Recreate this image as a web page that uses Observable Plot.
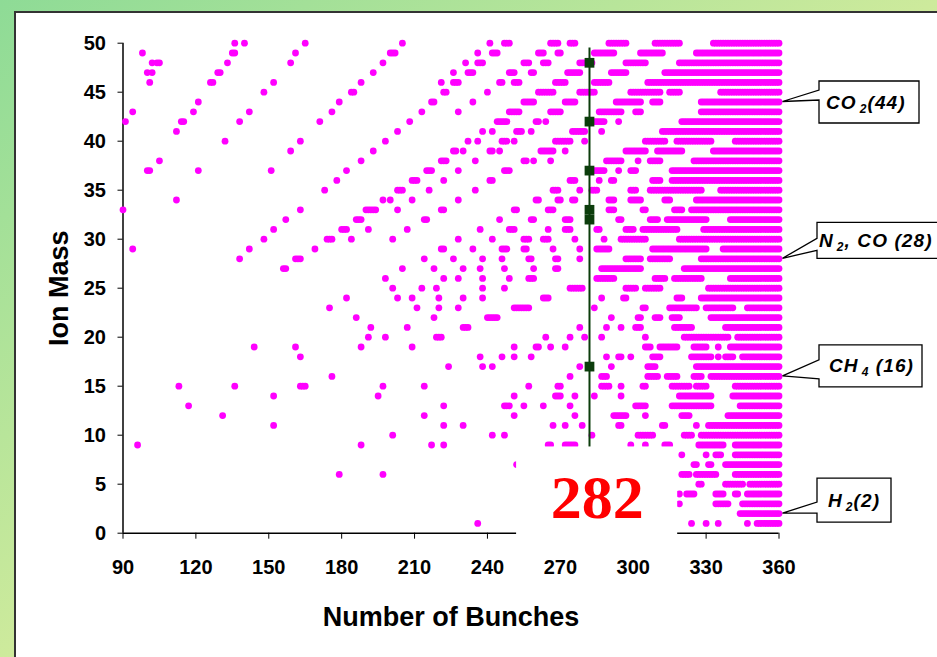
<!DOCTYPE html>
<html><head><meta charset="utf-8">
<script src="https://cdn.jsdelivr.net/npm/d3@7"></script>
<script src="https://cdn.jsdelivr.net/npm/@observablehq/plot@0.6"></script>
<style>
html,body{margin:0;padding:0;width:937px;height:657px;overflow:hidden;}
body{position:relative;background:linear-gradient(to bottom right,#8edb96 0%,#cdea9c 50%,#f2f6aa 100%);font-family:"Liberation Sans",Arial,sans-serif;}
#panel{position:absolute;left:14px;top:11px;right:-10px;bottom:-10px;background:#fff;border-left:2px solid #333;border-top:2px solid #333;}
#chart{position:absolute;left:0;top:0;}
</style></head><body><div id="panel"></div><div id="chart"></div>
<script>
// ---- data ----
const xTicks = [90,120,150,180,210,240,270,300,330,360];
const yTicks = [0,5,10,15,20,25,30,35,40,45,50];
const massLevels = [50,49,48,47,46,45,44,43,42,41,40,39,38,37,36,35,34,33,32,31,30,29,28,27,26,25,24,23,22,21,20,19,18,17,16,15,14,13,12,11,10,9,8,7,6,5,4,3,2,1];
// bunch numbers where an ion of that mass is trapped ("a-b" = every bunch number from a to b)
const bunchRuns = [
 "136 140 165 205 241 247-249 266-269 274-276 290-297 309-319 333-360",
 "98 135-136 161 200-202 236 242-244 261-263 269-270 284-292 303-312 326-360",
 "102 104-105 133 159 197 231 236-238 255-257 263-265 278-283 297-305 319-360",
 "100 102 129-130 193 226 232-234 249-251 258-259 273-278 291-297 313-360",
 "101 126-127 152 188 221 226-228 245-246 251-253 268-272 284-290 306-360",
 "148 184-185 222-223 240 261-267 278-284 299-311 315-319 336-360",
 "121 179 217-218 234 255-259 272-276 293-303 308-311 328-360",
 "94 119 142 176 213 228 249-253 266-270 286-295 301-303 328-360",
 "91 114-115 138 171 208 244-248 260-261 264 282-288 294 320-360",
 "112 203 238 242 252-254 258 275-280 287 312-360",
 "132 163 198 232 236 246-248 251 268-274 280 305-313 318-332 342-360",
 "159 193 226-227 230 241-242 245 262-267 272 297-305 310-320 333-360",
 "105 188 221-223 235 255-256 259 266 289-295 302 307-311 325-360",
 "100-101 121 151 182 215-217 228 247-249 282-288 294 299-301 316-360",
 "178 209-211 222 241-242 274-276 286 291-292 308-311 316-360",
 "173 203-205 216 235 267-269 278 283-285 299-301 307-328 336-360",
 "112 197 200 209 228 260-261 269-270 275-276 290-292 299-303 313-315 326-360",
 "90 163 190-194 203 221-222 251-252 265-267 282 290-292 304-305 317-320 324-360",
 "157 186-188 214-215 245 258-259 272-274 282 294-295 307-310 314-330 340-360",
 "152 180-182 191 207 237 249-251 265 272-274 285-286 297-300 304-318 329-360",
 "148 174-176 184 201 228 242 255-257 263-265 276 288 295-305 319-360",
 "94 142 169 221-222 234 246-248 255-256 267 278 285-290 308-330 337-360",
 "138 161-163 214 226 238 246 257-258 268-269 278 297-303 307-315 328-360",
 "156-157 205 218 230 237 247 259 268-269 287-303 321-360",
 "198 222 228 238 249 257-259 285-292 309-313 317-328 340-360",
 "201 213 219 238 247 274-279 297-301 305-311 331-360",
 "182 203 209 220 230 238 263-265 287 296-297 318-320 328-360",
 "175 211 220 228 251-257 284 304-305 315-326 330-341 347-360",
 "186 218 240-244 291 302-303 309-311 316-319 332-360",
 "192 207 230-232 278 289 295 301-303 317-324 338-360",
 "191 198 219-221 264 274 280 287 305 321-339 343-360",
 "144 161 188 209 251 260-261 266 272 305-307 311-318 325-330 335 340-360",
 "163 237 246 251 258 289 294-295 299 308-311 324-332 335 338-341 345-360",
 "224 238 242 278 282 291 306-309 326-360",
 "176 274 287-289 306-310 314-318 325-328 332-360",
 "113 136 163-165 197 214 257 269-270 287-290 295 304-305 316-323 326-330 342-360",
 "152 195 251 268-270 276 284 295 319-332 341-360",
 "117 222 247-249 255 263 274 301-305 316-332 344-360",
 "131 214 251 276 292-297 305 320-323 339-360",
 "152 222 230 267 272 279 294-295 312-313 326 331-360",
 "201 242 247 283 302-308 321-324 328-360",
 "96 188 217 222 265-266 272-276 299 305 313-315 327-337 342-360",
 "320 330 334-336 342-360",
 "252 325-326 331-332 338-360",
 "179 197 320-323 326-334 342-360",
 "327-328 338-345 348-360",
 "319 322-325 334-337 342-343 347-360",
 "319 334-339 345-360",
 "344-360",
 "236 324 330 335 347 351-360"
];
const highlightBunch = 282;
const highlightMasses = [48,42,37,33,32,17];
const calloutMasses = [44,28,16,2];
const calloutTexts = [["CO","2","(44)"],["N","2",", CO (28)"],["CH","4"," (16)"],["H","2","(2)"]];

// ---- build table ----
const expand = s => s.split(" ").flatMap(t => { const [a,b] = t.split("-").map(Number); return d3.range(a, (b ?? a) + 1); });
const dots = massLevels.flatMap((m,i) => expand(bunchRuns[i]).map(n => ({bunches:n, mass:m})));

const green = "#0c3d0c";
const font = "Liberation Sans, Arial, sans-serif";
const plot = Plot.plot({
  width: 937, height: 657,
  marginLeft: 122.5, marginRight: 158.5, marginTop: 42.7, marginBottom: 124.3,
  x: {domain:[90,360]},
  y: {domain:[0,50]},
  style: {background:"transparent", fontFamily:font, overflow:"visible", color:"#000"},
  marks: [
    Plot.axisX(xTicks, {tickSize:6, tickPadding:21, fontSize:20, fontWeight:"bold", label:null}),
    Plot.axisY(yTicks, {tickSize:5, tickPadding:12, fontSize:20, fontWeight:"bold", label:null}),
    Plot.ruleY([0], {stroke:"#000", strokeWidth:1.5}),
    Plot.ruleX([90], {stroke:"#000", strokeWidth:1.5}),
    Plot.dot(dots, {x:"bunches", y:"mass", r:3.4, fill:"#ff00ff"}),
    Plot.ruleX([highlightBunch], {y1:0, y2:49.5, stroke:green, strokeWidth:2}),
    Plot.dot(highlightMasses, {x:() => highlightBunch, y:d => d, symbol:"square", r:5.5, fill:green}),
    Plot.rect([{x1:highlightBunch-30, x2:highlightBunch+36.3, y1:-1.3, y2:8.8}], {x1:"x1", x2:"x2", y1:"y1", y2:"y2", fill:"#fff"}),
    Plot.text([String(highlightBunch)], {x:() => highlightBunch + 3.2, y:() => 3.6, fontSize:62, fontWeight:"bold", fontFamily:"Liberation Serif, Times New Roman, serif", fill:"#ff0000"}),
    Plot.text(["Number of Bunches"], {frameAnchor:"bottom", dy:84, textAnchor:"middle", lineAnchor:"middle", fontSize:27, fontWeight:"bold"}),
    Plot.text(["Ion Mass"], {frameAnchor:"left", dx:-64, rotate:-90, textAnchor:"middle", lineAnchor:"middle", fontSize:27, fontWeight:"bold"})
  ]
});
document.getElementById("chart").appendChild(plot);

// ---- callouts (positions from the scales) ----
const sx = plot.scale("x"), sy = plot.scale("y");
const tipX = sx.apply(360) + 4;
const layout = [
  {left:819, w:100, top:-20.5, h:42, w1:-11.5, w2:-1.5, tx:7},
  {left:817, w:130, top:-36, h:36, w1:-20, w2:-8, tx:2},
  {left:819, w:103, top:-31, h:42, w1:-16, w2:3, tx:10},
  {left:817, w:74, top:-35, h:44, w1:-11, w2:0, tx:11}
];
const svg = d3.select(plot);
calloutMasses.forEach((m,i) => {
  const ty = sy.apply(m), L = layout[i];
  const top = ty + L.top, bot = top + L.h, r = L.left + L.w;
  const path = `M${L.left},${top}H${r}V${bot}H${L.left}V${ty+L.w2}L${tipX},${ty}L${L.left},${ty+L.w1}Z`;
  svg.append("path").attr("d", path).attr("fill","#fff").attr("stroke","#000").attr("stroke-width",1.3);
  const cy = top + L.h/2;
  const t = svg.append("text").attr("x", L.left + L.tx).attr("y", cy + 6.5).attr("text-anchor","start")
    .attr("font-family", font).attr("font-size", 19).attr("letter-spacing", 1.1).attr("font-weight","bold").attr("font-style","italic");
  const [a,b,c] = calloutTexts[i];
  t.append("tspan").text(a);
  t.append("tspan").attr("font-size",12).attr("dx",3).attr("dy",4).text(b);
  t.append("tspan").attr("dy",-4).text(c);
});
</script></body></html>
